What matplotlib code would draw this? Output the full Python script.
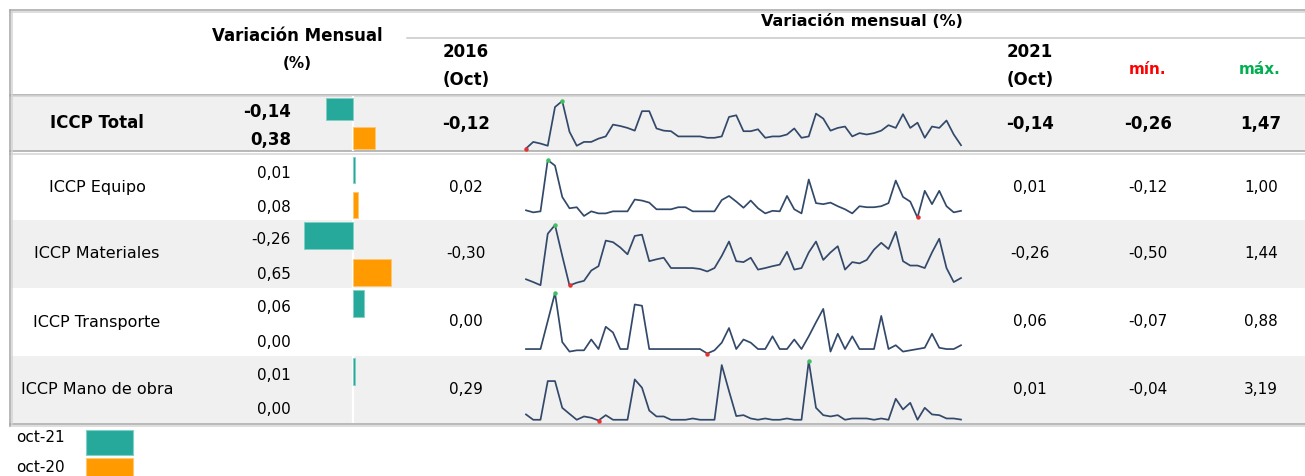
import numpy as np
import matplotlib
matplotlib.use("Agg")
import matplotlib.pyplot as plt
from matplotlib.patches import Rectangle

# --- data -------------------------------------------------------------------
LABELS = ["ICCP Total", "ICCP Equipo", "ICCP Materiales", "ICCP Transporte",
          "ICCP Mano de obra"]
OCT21 = [-0.14, 0.01, -0.26, 0.06, 0.01]
OCT20 = [0.38, 0.08, 0.65, 0.00, 0.00]
V2016 = [-0.12, 0.02, -0.30, 0.00, 0.29]
V2021 = [-0.14, 0.01, -0.26, 0.06, 0.01]
VMIN = [-0.26, -0.12, -0.50, -0.07, -0.04]
VMAX = [1.47, 1.00, 1.44, 0.88, 3.19]

# monthly variation, oct-2016 .. oct-2021
TOTAL = [-0.26, -0.02, -0.08, -0.16, 1.25, 1.47, 0.35, -0.16, -0.02, -0.02,
         0.10, 0.18, 0.61, 0.56, 0.49, 0.39, 1.10, 1.10, 0.47, 0.39,
         0.37, 0.18, 0.18, 0.18, 0.18, 0.13, 0.13, 0.18, 0.89, 0.95,
         0.37, 0.37, 0.44, 0.13, 0.18, 0.18, 0.25, 0.47, 0.13, 0.18,
         1.01, 0.83, 0.39, 0.49, 0.54, 0.18, 0.30, 0.25, 0.30, 0.39,
         0.59, 0.49, 0.99, 0.49, 0.68, 0.13, 0.54, 0.49, 0.76, 0.25, -0.14]
EQUIPO = [0.02, -0.02, 0.00, 1.00, 0.89, 0.28, 0.06, 0.08, -0.09, 0.00,
          -0.04, -0.04, 0.00, 0.00, 0.00, 0.23, 0.21, 0.17, 0.04, 0.04,
          0.04, 0.08, 0.08, 0.00, 0.00, 0.00, 0.00, 0.22, 0.30, 0.19,
          0.07, 0.21, 0.06, -0.04, 0.01, 0.00, 0.30, 0.04, -0.04, 0.62,
          0.16, 0.14, 0.17, 0.10, 0.04, -0.04, 0.10, 0.08, 0.08, 0.10,
          0.16, 0.60, 0.28, 0.19, -0.12, 0.40, 0.14, 0.40, 0.10, -0.02, 0.01]
MATERIALES = [-0.30, -0.39, -0.49, 1.16, 1.44, 0.45, -0.50, -0.41, -0.35, -0.02,
              0.12, 0.94, 0.89, 0.72, 0.50, 1.09, 1.13, 0.28, 0.34, 0.39,
              0.06, 0.06, 0.06, 0.06, 0.03, -0.05, 0.06, 0.45, 0.91, 0.28,
              0.25, 0.39, 0.01, 0.06, 0.12, 0.17, 0.58, 0.01, 0.06, 0.56,
              0.91, 0.32, 0.56, 0.76, 0.01, 0.25, 0.21, 0.32, 0.65, 0.87,
              0.67, 1.22, 0.28, 0.14, 0.14, 0.06, 0.56, 1.00, 0.06, -0.39, -0.26]
TRANSPORTE = [0.00, 0.00, 0.00, 0.44, 0.88, 0.11, -0.04, -0.02, -0.02, 0.15,
              0.00, 0.35, 0.26, 0.00, 0.00, 0.70, 0.68, 0.00, 0.00, 0.00,
              0.00, 0.00, 0.00, 0.00, 0.00, -0.07, -0.02, 0.10, 0.33, 0.00,
              0.15, 0.10, 0.00, 0.00, 0.20, 0.00, 0.00, 0.15, 0.00, 0.20,
              0.42, 0.63, -0.04, 0.24, 0.00, 0.20, 0.00, 0.00, 0.00, 0.52,
              0.00, 0.06, -0.04, -0.02, 0.00, 0.02, 0.24, 0.02, 0.00, 0.00, 0.06]
MANO = [0.29, 0.00, 0.00, 2.10, 2.10, 0.65, 0.32, 0.00, 0.18, 0.11,
        -0.04, 0.25, 0.00, 0.00, 0.00, 2.19, 1.74, 0.50, 0.18, 0.18,
        0.00, 0.00, 0.00, 0.07, 0.00, 0.00, 0.00, 2.97, 1.56, 0.20,
        0.25, 0.07, 0.00, 0.07, 0.00, 0.00, 0.07, 0.00, 0.00, 3.19,
        0.65, 0.25, 0.18, 0.25, 0.00, 0.07, 0.07, 0.07, 0.00, 0.07,
        0.00, 1.14, 0.56, 0.92, 0.00, 0.65, 0.29, 0.25, 0.07, 0.07, 0.01]
SERIES = [TOTAL, EQUIPO, MATERIALES, TRANSPORTE, MANO]

# --- style / layout (pixels) -------------------------------------------------
W, H = 1305, 476
TEAL, ORANGE = "#26a99b", "#ff9a00"
TEAL_EDGE, ORANGE_EDGE = "#7fd0c6", "#ffc870"
LINE = "#33496a"
GREY_BG = "#f0f0f0"
BORDER, BORDER2 = "#a6a6a6", "#d4d4d4"
ROW_TOP = [96, 155, 220, 288, 356]
ROW_BOT = [151, 220, 288, 356, 423]
BAR_X0, BAR_X1 = 296, 410          # bar column, zero at its middle
LIM21, LIM20 = 0.30, 0.98          # each series has its own data-bar scale
SPK_X0, SPK_X1 = 526, 961

plt.rcParams["font.family"] = "DejaVu Sans"


def fmt(v):
    return f"{v:.2f}".replace(".", ",")


def rect(x0, y0, x1, y1):
    return [x0 / W, 1 - y1 / H, (x1 - x0) / W, (y1 - y0) / H]


fig = plt.figure(figsize=(W / 100, H / 100), dpi=100)
bg = fig.add_axes([0, 0, 1, 1])
bg.set_xlim(0, W); bg.set_ylim(H, 0); bg.axis("off")

# row shading
for i in (0, 2, 4):
    bg.add_patch(Rectangle((11, ROW_TOP[i]), W - 11, ROW_BOT[i] - ROW_TOP[i],
                           color=GREY_BG, lw=0, zorder=0))

# table rules
for y, c in ((9.5, BORDER), (11.5, BORDER2), (94.5, BORDER), (96, BORDER2),
             (151, BORDER), (154, BORDER2), (423.5, BORDER), (426, BORDER2)):
    bg.plot([9.5, W], [y, y], color=c, lw=1.1, zorder=2)
bg.plot([407, W], [37.5, 37.5], color="#c8c8c8", lw=1.1, zorder=2)
bg.plot([9.5, 9.5], [9.5, 426], color=BORDER, lw=1.1, zorder=2)
bg.plot([11.5, 11.5], [11.5, 423.5], color=BORDER2, lw=1.1, zorder=2)

# header
hb = dict(ha="center", va="center", fontweight="bold", color="black")
bg.text(297, 36, "Variación Mensual", fontsize=12, **hb)
bg.text(297, 63, "(%)", fontsize=11, **hb)
bg.text(862, 22, "Variación mensual (%)", fontsize=11.5, **hb)
bg.text(466, 52, "2016", fontsize=12, **hb)
bg.text(466, 80, "(Oct)", fontsize=12, **hb)
bg.text(1030, 52, "2021", fontsize=12, **hb)
bg.text(1030, 80, "(Oct)", fontsize=12, **hb)
bg.text(1148, 69, "mín.", fontsize=11, ha="center", va="center",
        fontweight="bold", color="#ff0000")
bg.text(1260, 69, "máx.", fontsize=11, ha="center", va="center",
        fontweight="bold", color="#00b050")

x = np.arange(len(TOTAL))
for i, lab in enumerate(LABELS):
    top, bot = ROW_TOP[i], ROW_BOT[i]
    h = bot - top
    yc = top + 0.5 * h
    bold = i == 0
    fw = "bold" if bold else "normal"
    fs = 12 if bold else 11

    bg.text(97, yc, lab, ha="center", va="center", fontsize=12 if bold else 11.5,
            fontweight=fw, color="black")
    bg.text(291, top + 0.29 * h, fmt(OCT21[i]), ha="right", va="center",
            fontsize=fs, fontweight=fw)
    bg.text(291, top + 0.80 * h, fmt(OCT20[i]), ha="right", va="center",
            fontsize=fs, fontweight=fw)
    for cx, vals in ((466, V2016), (1030, V2021), (1148, VMIN), (1261, VMAX)):
        bg.text(cx, yc, fmt(vals[i]), ha="center", va="center",
                fontsize=fs, fontweight=fw)

    # data bars: two series, two scales, common zero
    a21 = fig.add_axes(rect(BAR_X0, top, BAR_X1, bot))
    a21.set_xlim(-LIM21, LIM21); a21.set_ylim(1, 0); a21.axis("off")
    if i in (0, 2, 4):
        a21.axvline(0, color="white", lw=1.6, zorder=0)
    a21.barh(0.23, OCT21[i], height=0.40, color=TEAL, edgecolor=TEAL_EDGE,
             lw=0.6 if OCT21[i] else 0, zorder=2)
    a20 = fig.add_axes(rect(BAR_X0, top, BAR_X1, bot))
    a20.set_xlim(-LIM20, LIM20); a20.set_ylim(1, 0); a20.axis("off")
    a20.barh(0.77, OCT20[i], height=0.40, color=ORANGE, edgecolor=ORANGE_EDGE,
             lw=0.6 if OCT20[i] else 0, zorder=2)

    # sparkline
    s = np.array(SERIES[i])
    sp = fig.add_axes(rect(SPK_X0, top + 5, SPK_X1, bot - 2.5))
    sp.plot(x, s, color=LINE, lw=1.25, solid_joinstyle="round", clip_on=False)
    sp.set_xlim(0, len(s) - 1); sp.set_ylim(s.min(), s.max()); sp.axis("off")
    sp.plot(s.argmin(), s.min(), "o", ms=3.2, color="#e83030", mec="none",
            clip_on=False, zorder=3)
    sp.plot(s.argmax(), s.max(), "o", ms=3.2, color="#3cc060", mec="none",
            clip_on=False, zorder=3)

# legend
bg.text(16, 438, "oct-21", ha="left", va="center", fontsize=11)
bg.text(16, 467, "oct-20", ha="left", va="center", fontsize=11)
bg.add_patch(Rectangle((86, 430), 47, 25, color=TEAL, ec=TEAL_EDGE, lw=0.8))
bg.add_patch(Rectangle((86, 458), 47, 25, color=ORANGE, ec=ORANGE_EDGE, lw=0.8))

fig.savefig("out.png", dpi=100)
